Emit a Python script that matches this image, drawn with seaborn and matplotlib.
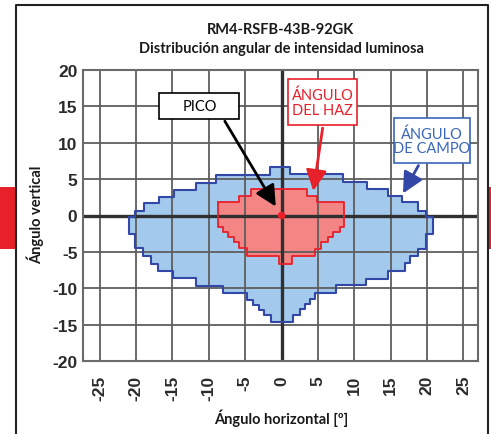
import numpy as np
import pandas as pd
import matplotlib
matplotlib.use("Agg")
import matplotlib.pyplot as plt
import seaborn as sns
from matplotlib.patches import Rectangle
from matplotlib.lines import Line2D

# ---------------- data (degrees) ----------------
# Field angle (blue) region: upper and lower step boundaries
blue_top_edges = [-21.0, -20.1, -18.9, -16.9, -14.8, -11.8, -9.0, -1.6, 1.2,
                  8.4, 11.7, 14.6, 16.6, 18.7, 19.8, 20.8]
blue_top_vals = [-0.2, 0.6, 1.7, 2.6, 3.5, 4.5, 5.6, 6.7, 5.7,
                 4.6, 3.6, 2.7, 1.8, 0.6, -0.2]
blue_bot_edges = [-21.0, -20.1, -19.0, -18.0, -17.0, -14.9, -11.7, -8.0, -4.7,
                  -3.9, -3.1, -2.4, -1.5, 1.6, 2.5, 3.2, 3.9, 4.6, 7.5, 11.6,
                  14.6, 16.9, 17.7, 18.7, 19.8, 20.8]
blue_bot_vals = [-2.5, -4.5, -5.6, -6.6, -7.6, -8.6, -9.7, -10.7,
                 -11.6, -12.3, -13.0, -13.7, -14.7, -13.7, -12.9, -12.2, -11.5,
                 -10.6, -9.6, -8.7, -7.6, -6.5, -5.6, -4.6, -2.5]

# Beam angle (red) region
red_top_edges = [-8.8, -5.8, -4.2, 3.5, 4.9, 8.6]
red_top_vals = [1.8, 2.7, 3.6, 2.7, 1.8]
red_bot_edges = [-8.8, -8.0, -7.3, -6.6, -5.9, -4.7, -0.4, 1.4, 4.6, 5.4,
                 6.4, 7.1, 8.0, 8.6]
red_bot_vals = [-1.6, -2.3, -2.9, -3.6, -4.5, -5.6, -6.6, -5.6, -4.6,
                -3.7, -3.0, -2.3, -1.6]

peak_x = [0.0]
peak_y = [0.0]

x_ticks = [-25, -20, -15, -10, -5, 0, 5, 10, 15, 20, 25]
y_ticks = [-20, -15, -10, -5, 0, 5, 10, 15, 20]

title_lines = ["RM4-RSFB-43B-92GK", "Distribución angular de intensidad luminosa"]
xlabel = "Ángulo horizontal [º]"
ylabel = "Ángulo vertical"
label_pico = "PICO"
label_haz = "ÁNGULO\nDEL HAZ"
label_campo = "ÁNGULO\nDE CAMPO"


def step_outline(top_edges, top_vals, bot_edges, bot_vals):
    xs, ys = [], []
    for i, v in enumerate(top_vals):
        xs += [top_edges[i], top_edges[i + 1]]
        ys += [v, v]
    for i in range(len(bot_vals) - 1, -1, -1):
        xs += [bot_edges[i + 1], bot_edges[i]]
        ys += [bot_vals[i], bot_vals[i]]
    xs.append(xs[0])
    ys.append(ys[0])
    return pd.DataFrame({"x": xs, "y": ys, "order": np.arange(len(xs))})


# ---------------- style ----------------
sns.set_theme(style="white")
plt.rcParams["font.family"] = ["Lato", "DejaVu Sans"]
plt.rcParams["axes.unicode_minus"] = False

fig = plt.figure(figsize=(4.91, 4.35), dpi=100)
ax = fig.add_axes([83 / 491, 1 - 362 / 435, (478 - 83) / 491, (362 - 71) / 435])

blue_fill = "#a3c9ec"
blue_line = "#3347a6"
red_fill = "#f38585"
red_line = "#e8202a"

blue_df = step_outline(blue_top_edges, blue_top_vals, blue_bot_edges, blue_bot_vals)
red_df = step_outline(red_top_edges, red_top_vals, red_bot_edges, red_bot_vals)

ax.fill(blue_df["x"], blue_df["y"], color=blue_fill, zorder=1, lw=0)
ax.fill(red_df["x"], red_df["y"], color=red_fill, zorder=1.2, lw=0)

# grid above fills
for xv in x_ticks:
    ax.axvline(xv, color="#5e5e5e", lw=1.3, zorder=2)
for yv in y_ticks:
    ax.axhline(yv, color="#5e5e5e", lw=1.3, zorder=2)
ax.axvline(0, color="#303030", lw=2.4, zorder=2.1)
ax.axhline(0, color="#303030", lw=2.4, zorder=2.1)

sns.lineplot(data=blue_df, x="x", y="y", sort=False, estimator=None,
             color=blue_line, lw=1.5, ax=ax, zorder=3)
sns.lineplot(data=red_df, x="x", y="y", sort=False, estimator=None,
             color=red_line, lw=1.3, ax=ax, zorder=3.1)
sns.scatterplot(x=peak_x, y=peak_y, color="#e8202a", s=30, ax=ax,
                zorder=4, edgecolor="none")

ax.set_xlim(-27.3, 27.0)
ax.set_ylim(-20, 20)
ax.set_xticks(x_ticks)
ax.set_yticks(y_ticks)
ax.set_xticklabels([str(v) for v in x_ticks], rotation=90,
                   fontfamily="Liberation Sans", fontweight="bold", fontsize=12.5,
                   color="#2b2b2b")
ax.set_yticklabels([str(v) for v in y_ticks],
                   fontfamily="Liberation Sans", fontweight="bold", fontsize=12.5,
                   color="#2b2b2b")
ax.tick_params(axis="x", length=0, pad=10)
ax.tick_params(axis="y", length=0, pad=4)
ax.set_xlabel("")
ax.set_ylabel("")
for s in ax.spines.values():
    s.set_color("#6a6a6a")
    s.set_linewidth(1.5)
    s.set_zorder(2.2)

# ---------------- annotation boxes & arrows ----------------
ax.add_patch(Rectangle((-16.8, 13.3), 11.0, 3.5, facecolor="white",
                       edgecolor="black", lw=1.2, zorder=5))
ax.text(-11.3, 15.05, label_pico, ha="center", va="center", fontsize=10.5,
        color="black", zorder=6)
ax.annotate("", xy=(-0.6, 0.9), xytext=(-8.0, 13.3),
            arrowprops=dict(arrowstyle="-|>,head_length=0.9,head_width=0.45",
                            color="black", lw=2, mutation_scale=14), zorder=5)

ax.add_patch(Rectangle((0.9, 12.4), 9.5, 6.4, facecolor="white",
                       edgecolor=red_line, lw=1.2, zorder=5))
ax.text(5.65, 15.6, label_haz, ha="center", va="center", fontsize=10.5,
        color=red_line, linespacing=1.05, zorder=6)
ax.annotate("", xy=(4.3, 3.0), xytext=(5.7, 12.4),
            arrowprops=dict(arrowstyle="-|>,head_length=0.9,head_width=0.45",
                            color=red_line, lw=2, mutation_scale=14), zorder=5)

ax.add_patch(Rectangle((15.5, 7.2), 10.4, 6.2, facecolor="white",
                       edgecolor="#3a66b8", lw=1.2, zorder=5))
ax.text(20.7, 10.3, label_campo, ha="center", va="center", fontsize=10.5,
        color="#3a66b8", linespacing=1.05, zorder=6)
ax.annotate("", xy=(16.5, 2.7), xytext=(19.0, 7.2),
            arrowprops=dict(arrowstyle="-|>,head_length=0.9,head_width=0.45",
                            color=blue_line, lw=2, mutation_scale=14), zorder=5)

# ---------------- titles and labels ----------------
fig.text(281 / 491, 1 - 30 / 435, title_lines[0], ha="center", va="center",
         fontsize=10.5, fontweight="bold", color="#1a1a1a")
fig.text(281 / 491, 1 - 49 / 435, title_lines[1], ha="center", va="center",
         fontsize=10.5, fontweight="bold", color="#1a1a1a")
fig.text(35 / 491, 1 - 215 / 435, ylabel, ha="center", va="center",
         rotation=90, fontsize=10.5, fontweight="bold", color="#1a1a1a")
fig.text(281 / 491, 1 - 418 / 435, xlabel, ha="center", va="center",
         fontsize=10.5, fontweight="bold", color="#1a1a1a")

# ---------------- page decorations ----------------
fig.add_artist(Rectangle((0, 1 - 250 / 435), 15 / 491, 62 / 435,
                         transform=fig.transFigure, color="#e8202a", lw=0))
fig.add_artist(Rectangle((489 / 491, 1 - 250 / 435), 2 / 491, 62 / 435,
                         transform=fig.transFigure, color="#e8202a", lw=0))
fig.add_artist(Line2D([16 / 491, 16 / 491, 488 / 491, 488 / 491],
                      [0, 1 - 6 / 435, 1 - 6 / 435, 0],
                      transform=fig.transFigure, color="#222222", lw=1.5))

fig.savefig("out.png", dpi=100)
